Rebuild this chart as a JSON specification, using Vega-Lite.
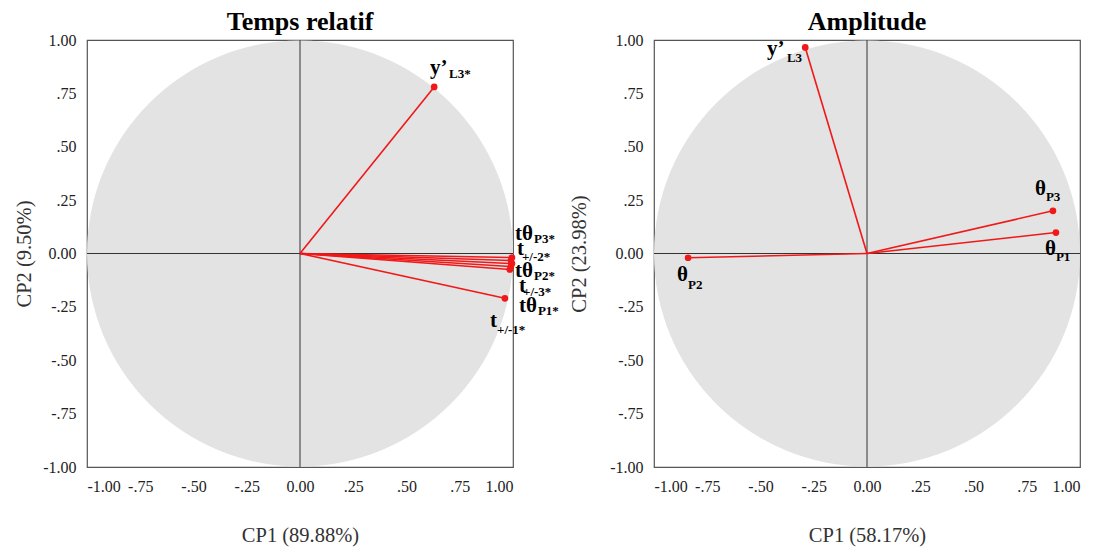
{
  "$schema": "https://vega.github.io/schema/vega-lite/v6.json",
  "background": "white",
  "padding": {"left": 13, "top": 8, "right": 5, "bottom": 0},
  "bounds": "flush",
  "spacing": 141,
  "config": {
    "font": "Liberation Serif",
    "view": {"stroke": "#555555", "strokeWidth": 1.2},
    "axis": {"grid": false, "ticks": false, "domain": false, "labelFont": "Liberation Serif", "labelFontSize": 16, "labelColor": "#222222", "titleFont": "Liberation Serif", "titleFontSize": 20.5, "titleFontWeight": "normal", "titleColor": "#333333", "labelPadding": 11},
    "title": {"font": "Liberation Serif", "fontSize": 26, "fontWeight": "bold", "color": "#000000", "offset": -3}
  },
  "datasets": {
    "circle": [{"x": 0, "y": 0}],
    "vectors": [
      {"panel": "L", "name": "y'L3*", "x": 0.63, "y": 0.78},
      {"panel": "L", "name": "tθP3*", "x": 0.995, "y": -0.019},
      {"panel": "L", "name": "t+/-2*", "x": 0.99, "y": -0.033},
      {"panel": "L", "name": "tθP2*", "x": 0.995, "y": -0.047},
      {"panel": "L", "name": "t+/-3*", "x": 0.99, "y": -0.061},
      {"panel": "L", "name": "tθP1*", "x": 0.985, "y": -0.075},
      {"panel": "L", "name": "t+/-1*", "x": 0.962, "y": -0.21},
      {"panel": "R", "name": "y'L3", "x": -0.29, "y": 0.965},
      {"panel": "R", "name": "θP3", "x": 0.873, "y": 0.20},
      {"panel": "R", "name": "θP1", "x": 0.887, "y": 0.098},
      {"panel": "R", "name": "θP2", "x": -0.84, "y": -0.02}
    ],
    "labels": [
      {"panel": "L", "main": "y’", "sub": "L3*", "lx": 0.61, "ly": 0.843, "sx": 0.70, "sy": 0.824},
      {"panel": "L", "main": "tθ", "sub": "P3*", "lx": 1.009, "ly": 0.061, "sx": 1.099, "sy": 0.047},
      {"panel": "L", "main": "t", "sub": "+/-2*", "lx": 1.019, "ly": -0.005, "sx": 1.042, "sy": -0.033},
      {"panel": "L", "main": "tθ", "sub": "P2*", "lx": 1.009, "ly": -0.108, "sx": 1.099, "sy": -0.122},
      {"panel": "L", "main": "t", "sub": "+/-3*", "lx": 1.028, "ly": -0.178, "sx": 1.047, "sy": -0.201},
      {"panel": "L", "main": "tθ", "sub": "P1*", "lx": 1.028, "ly": -0.272, "sx": 1.117, "sy": -0.286},
      {"panel": "L", "main": "t", "sub": "+/-1*", "lx": 0.892, "ly": -0.342, "sx": 0.925, "sy": -0.375},
      {"panel": "R", "main": "y’", "sub": "L3", "lx": -0.469, "ly": 0.932, "sx": -0.376, "sy": 0.899},
      {"panel": "R", "main": "θ", "sub": "P3", "lx": 0.789, "ly": 0.276, "sx": 0.84, "sy": 0.244},
      {"panel": "R", "main": "θ", "sub": "P1", "lx": 0.836, "ly": -0.005, "sx": 0.887, "sy": -0.037},
      {"panel": "R", "main": "θ", "sub": "P2", "lx": -0.892, "ly": -0.131, "sx": -0.84, "sy": -0.164}
    ]
  },
  "hconcat": [
    {
      "title": "Temps relatif",
      "width": 426,
      "height": 427,
      "layer": [
        {
          "data": {"name": "circle"},
          "mark": {"type": "point", "shape": "circle", "filled": true, "size": 181476, "color": "#e3e3e3", "opacity": 1, "clip": true},
          "encoding": {
            "x": {"field": "x", "type": "quantitative", "scale": {"domain": [-1, 1], "nice": false, "zero": false}, "axis": {"values": [-1, -0.75, -0.5, -0.25, 0, 0.25, 0.5, 0.75, 1], "labelExpr": "datum.value == 0 ? '0.00' : abs(datum.value) == 1 ? replace(format(datum.value, '.2f'), '−', '-') : replace(replace(format(datum.value, '.2f'), '0.', '.'), '−', '-')", "title": "CP1 (89.88%)", "titlePadding": 31}},
            "y": {"field": "y", "type": "quantitative", "scale": {"domain": [-1, 1], "nice": false, "zero": false}, "axis": {"values": [-1, -0.75, -0.5, -0.25, 0, 0.25, 0.5, 0.75, 1], "labelExpr": "datum.value == 0 ? '0.00' : abs(datum.value) == 1 ? replace(format(datum.value, '.2f'), '−', '-') : replace(replace(format(datum.value, '.2f'), '0.', '.'), '−', '-')", "title": "CP2 (9.50%)", "titleX": -53}}
          }
        },
        {
          "data": {"name": "circle"},
          "mark": {"type": "rule", "color": "#333333", "strokeWidth": 1},
          "encoding": {"x": {"field": "x", "type": "quantitative"}}
        },
        {
          "data": {"name": "circle"},
          "mark": {"type": "rule", "color": "#333333", "strokeWidth": 1},
          "encoding": {"y": {"field": "y", "type": "quantitative"}}
        },
        {
          "data": {"name": "vectors"},
          "transform": [{"filter": "datum.panel == 'L'"}],
          "mark": {"type": "rule", "color": "#f01818", "strokeWidth": 1.6},
          "encoding": {"x": {"field": "x", "type": "quantitative"}, "y": {"field": "y", "type": "quantitative"}, "x2": {"datum": 0}, "y2": {"datum": 0}}
        },
        {
          "data": {"name": "vectors"},
          "transform": [{"filter": "datum.panel == 'L'"}],
          "mark": {"type": "point", "shape": "circle", "filled": true, "size": 45, "color": "#f01818", "opacity": 1},
          "encoding": {"x": {"field": "x", "type": "quantitative"}, "y": {"field": "y", "type": "quantitative"}}
        },
        {
          "data": {"name": "labels"},
          "transform": [{"filter": "datum.panel == 'L'"}],
          "mark": {"type": "text", "align": "left", "baseline": "alphabetic", "fontSize": 21, "fontWeight": "bold", "color": "#000000", "font": "Liberation Serif"},
          "encoding": {"x": {"field": "lx", "type": "quantitative"}, "y": {"field": "ly", "type": "quantitative"}, "text": {"field": "main", "type": "nominal"}}
        },
        {
          "data": {"name": "labels"},
          "transform": [{"filter": "datum.panel == 'L'"}],
          "mark": {"type": "text", "align": "left", "baseline": "alphabetic", "fontSize": 13, "fontWeight": "bold", "color": "#000000", "font": "Liberation Serif"},
          "encoding": {"x": {"field": "sx", "type": "quantitative"}, "y": {"field": "sy", "type": "quantitative"}, "text": {"field": "sub", "type": "nominal"}}
        }
      ]
    },
    {
      "title": "Amplitude",
      "width": 426,
      "height": 427,
      "layer": [
        {
          "data": {"name": "circle"},
          "mark": {"type": "point", "shape": "circle", "filled": true, "size": 181476, "color": "#e3e3e3", "opacity": 1, "clip": true},
          "encoding": {
            "x": {"field": "x", "type": "quantitative", "scale": {"domain": [-1, 1], "nice": false, "zero": false}, "axis": {"values": [-1, -0.75, -0.5, -0.25, 0, 0.25, 0.5, 0.75, 1], "labelExpr": "datum.value == 0 ? '0.00' : abs(datum.value) == 1 ? replace(format(datum.value, '.2f'), '−', '-') : replace(replace(format(datum.value, '.2f'), '0.', '.'), '−', '-')", "title": "CP1 (58.17%)", "titlePadding": 31}},
            "y": {"field": "y", "type": "quantitative", "scale": {"domain": [-1, 1], "nice": false, "zero": false}, "axis": {"values": [-1, -0.75, -0.5, -0.25, 0, 0.25, 0.5, 0.75, 1], "labelExpr": "datum.value == 0 ? '0.00' : abs(datum.value) == 1 ? replace(format(datum.value, '.2f'), '−', '-') : replace(replace(format(datum.value, '.2f'), '0.', '.'), '−', '-')", "title": "CP2 (23.98%)", "titleX": -65}}
          }
        },
        {
          "data": {"name": "circle"},
          "mark": {"type": "rule", "color": "#333333", "strokeWidth": 1},
          "encoding": {"x": {"field": "x", "type": "quantitative"}}
        },
        {
          "data": {"name": "circle"},
          "mark": {"type": "rule", "color": "#333333", "strokeWidth": 1},
          "encoding": {"y": {"field": "y", "type": "quantitative"}}
        },
        {
          "data": {"name": "vectors"},
          "transform": [{"filter": "datum.panel == 'R'"}],
          "mark": {"type": "rule", "color": "#f01818", "strokeWidth": 1.6},
          "encoding": {"x": {"field": "x", "type": "quantitative"}, "y": {"field": "y", "type": "quantitative"}, "x2": {"datum": 0}, "y2": {"datum": 0}}
        },
        {
          "data": {"name": "vectors"},
          "transform": [{"filter": "datum.panel == 'R'"}],
          "mark": {"type": "point", "shape": "circle", "filled": true, "size": 45, "color": "#f01818", "opacity": 1},
          "encoding": {"x": {"field": "x", "type": "quantitative"}, "y": {"field": "y", "type": "quantitative"}}
        },
        {
          "data": {"name": "labels"},
          "transform": [{"filter": "datum.panel == 'R'"}],
          "mark": {"type": "text", "align": "left", "baseline": "alphabetic", "fontSize": 21, "fontWeight": "bold", "color": "#000000", "font": "Liberation Serif"},
          "encoding": {"x": {"field": "lx", "type": "quantitative"}, "y": {"field": "ly", "type": "quantitative"}, "text": {"field": "main", "type": "nominal"}}
        },
        {
          "data": {"name": "labels"},
          "transform": [{"filter": "datum.panel == 'R'"}],
          "mark": {"type": "text", "align": "left", "baseline": "alphabetic", "fontSize": 13, "fontWeight": "bold", "color": "#000000", "font": "Liberation Serif"},
          "encoding": {"x": {"field": "sx", "type": "quantitative"}, "y": {"field": "sy", "type": "quantitative"}, "text": {"field": "sub", "type": "nominal"}}
        }
      ]
    }
  ]
}
